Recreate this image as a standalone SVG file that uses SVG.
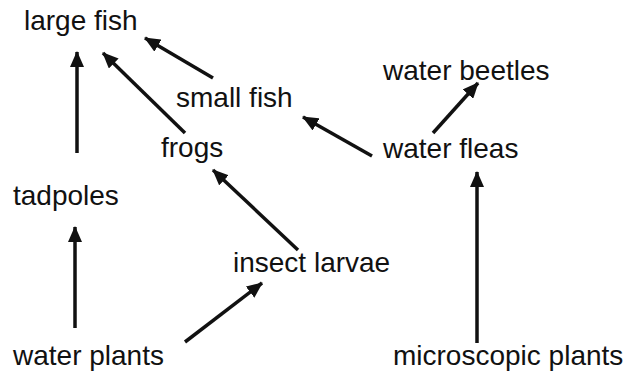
<svg xmlns="http://www.w3.org/2000/svg" width="636" height="378" viewBox="0 0 636 378">
<defs>
<style>
text{font-family:"Liberation Sans",Arial,sans-serif;font-size:28px;fill:#111}
.c line{stroke:#111;stroke-width:3.5;marker-end:url(#ah)}
</style>
<marker id="ah" markerUnits="userSpaceOnUse" markerWidth="18" markerHeight="14" refX="15" refY="7" orient="auto" viewBox="0 0 18 14">
<path d="M0,0 L16,7 L0,14 Z" fill="#111"/>
</marker>
</defs>
<rect width="636" height="378" fill="#fff"/>
<g class="c" id="connectors">
<line x1="77" y1="153" x2="77" y2="52"/>
<line x1="185" y1="133" x2="103" y2="53"/>
<line x1="213" y1="78" x2="145" y2="38"/>
<line x1="372" y1="156" x2="303" y2="117"/>
<line x1="433" y1="133" x2="478" y2="83"/>
<line x1="477" y1="343" x2="477" y2="172"/>
<line x1="75" y1="328" x2="75" y2="227"/>
<line x1="185" y1="342" x2="262" y2="283"/>
<line x1="298" y1="250" x2="213" y2="170"/>
</g>
<g id="large-fish"><text x="24" y="30">large fish</text></g>
<g id="small-fish"><text x="176" y="107">small fish</text></g>
<g id="frogs"><text x="161" y="157">frogs</text></g>
<g id="tadpoles"><text x="13" y="205">tadpoles</text></g>
<g id="water-plants"><text x="13" y="365">water plants</text></g>
<g id="insect-larvae"><text x="233" y="272">insect larvae</text></g>
<g id="water-beetles"><text x="383" y="80">water beetles</text></g>
<g id="water-fleas"><text x="383" y="158">water fleas</text></g>
<g id="microscopic-plants"><text x="393" y="365">microscopic plants</text></g>
</svg>
